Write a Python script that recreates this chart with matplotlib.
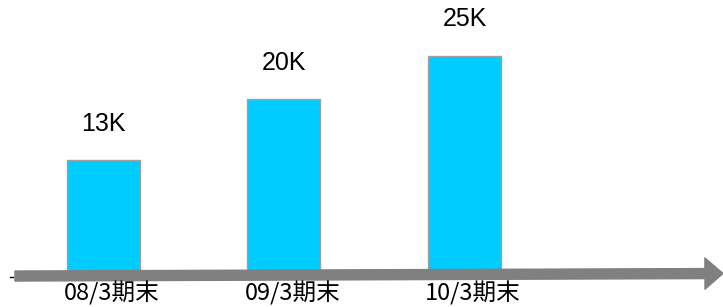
import matplotlib
matplotlib.use("Agg")
import matplotlib.pyplot as plt

categories = ["08/3期末", "09/3期末", "10/3期末"]
values = [13, 20, 25]  # thousands
value_labels = ["13K", "20K", "25K"]

plt.rcParams["font.family"] = ["Noto Sans CJK JP", "DejaVu Sans"]

fig = plt.figure(figsize=(7.23, 3.07), dpi=100)
ax = fig.add_axes([0, 0, 1, 1])
ax.set_xlim(-0.573, 3.432)
ax.set_ylim(-3.91, 31.38)
ax.axis("off")

x = list(range(len(categories)))
ax.bar(x, values, width=0.404, color="#00CCFF", edgecolor="#a0a0a0",
       linewidth=1.0, zorder=2)

# time axis arrow (slightly tilted, as in the original slide)
ax.annotate("", xy=(3.432, -0.06), xytext=(-0.49, -0.35),
            arrowprops=dict(arrowstyle="simple,head_length=1.3,head_width=2.25,tail_width=0.72",
                            mutation_scale=10, color="#808080",
                            shrinkA=0, shrinkB=0), zorder=3)
ax.plot([-0.515, -0.5], [-0.45, -0.45], color="black", lw=1, zorder=1)

for xi, v, lab in zip(x, values, value_labels):
    ax.annotate(lab, xy=(xi, v), xytext=(0, 26), textcoords="offset points",
                ha="center", va="center", fontsize=18,
                family=["Liberation Sans", "DejaVu Sans"], color="black")

for xi, cat in zip(x, categories):
    ax.annotate(cat, xy=(xi, 0), xytext=(6, -20), textcoords="offset points",
                ha="center", va="baseline", fontsize=17, color="black")

fig.savefig("out.png", dpi=100)
